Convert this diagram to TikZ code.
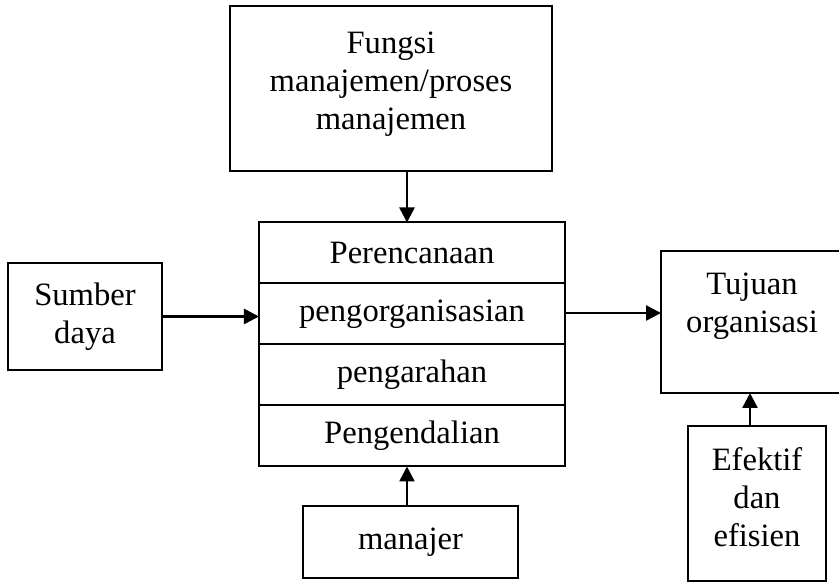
\documentclass[tikz,border=0pt]{standalone}
\usepackage{fontspec}
\setmainfont{Liberation Serif}
\usepackage{tikz}
\usetikzlibrary{positioning}
\usetikzlibrary{arrows.meta}

\begin{document}
\begin{tikzpicture}[
			boxStyle/.style={draw, line width=1pt, align=center, inner sep=0pt, outer sep=0pt, font=\fontsize{16.3}{19}\selectfont},
			stepRow/.style={boxStyle, minimum width=153pt, minimum height=30.5pt},
			arrowStyle/.style={-{Triangle[length=7.5pt, width=7.5pt]}, line width=1.3pt},]
			
			\useasboundingbox (-206pt,-164.5pt) rectangle (213.5pt,126.5pt);
			
			% fungsi manajemen
			\node[stepRow] (p1) {Perencanaan};
			\node[stepRow, below=0pt of p1] (p2) {pengorganisasian};
			\node[stepRow, below=0pt of p2] (p3) {pengarahan};
			\node[stepRow, below=0pt of p3] (p4) {Pengendalian};
			
			\begin{scope}[every node/.style={boxStyle}]
				\node[above=25.5pt of p1, xshift=-10.5pt, minimum width=161pt, minimum height=82.5pt, text depth=8pt] (fungsi) {Fungsi\\manajemen/proses\\manajemen};
				\node[left=48.5pt of p2, yshift=-1.25pt, minimum width=77pt, minimum height=53.5pt] (sumber) {Sumber\\daya};
				\node[right=48pt of p2, yshift=-4pt, minimum width=91pt, minimum height=71pt, text depth=19pt] (tujuan) {Tujuan\\organisasi};
				\node[below=20pt of p4, xshift=-0.75pt, minimum width=107.5pt, minimum height=35.5pt] (manajer) {manajer};
				\node[below=16.5pt of tujuan, xshift=2.5pt, minimum width=69pt, minimum height=77.5pt, text depth=6.5pt] (efektif) {Efektif\\dan\\efisien};
			\end{scope}
			
			\draw[arrowStyle] ([xshift=8pt]fungsi.south) -- ([xshift=8pt]fungsi.south |- p1.north);
			\draw[arrowStyle] (sumber.east) -- (sumber.east -| p2.west);
			\draw[arrowStyle] ([yshift=0.5pt]p2.east) -- ([yshift=0.5pt]p2.east -| tujuan.west);
			\draw[arrowStyle] ([xshift=-1.75pt]manajer.north) -- ([xshift=-1.75pt]manajer.north |- p4.south);
			\draw[arrowStyle] ([xshift=-3.5pt]efektif.north) -- ([xshift=-3.5pt]efektif.north |- tujuan.south);
		\end{tikzpicture}
\end{document}
